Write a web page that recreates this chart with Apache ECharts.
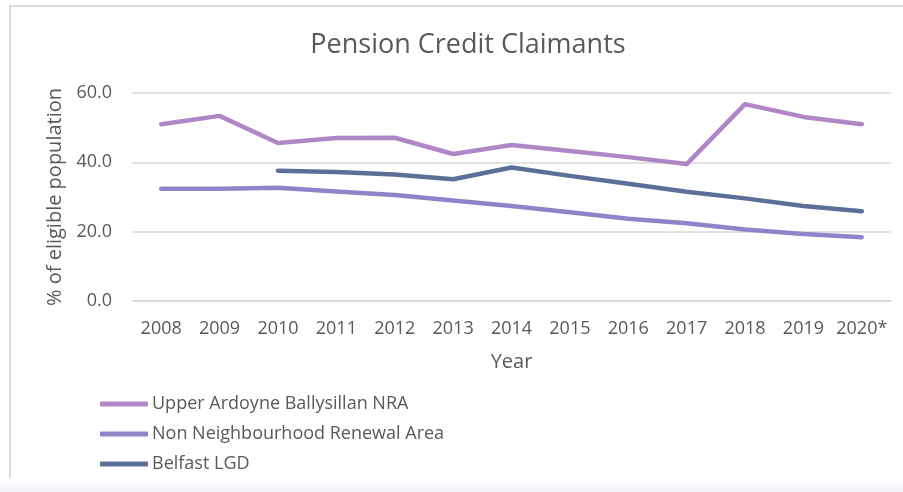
<!DOCTYPE html>
<html>
<head>
<meta charset="utf-8">
<script src="https://cdn.jsdelivr.net/npm/echarts@6/dist/echarts.min.js"></script>
<style>
  html, body { margin: 0; padding: 0; background: #fff; }
  #chart { width: 903px; height: 492px; }
</style>
</head>
<body>
<div id="chart"></div>
<script>
const years = ['2008', '2009', '2010', '2011', '2012', '2013', '2014', '2015', '2016', '2017', '2018', '2019', '2020*']
const upperArdoyne = [51.0, 53.4, 45.6, 47.0, 47.1, 42.4, 45.0, 43.3, 41.5, 39.5, 56.8, 53.1, 51.0]
const nonNra = [32.4, 32.4, 32.7, 31.6, 30.6, 29.0, 27.4, 25.6, 23.7, 22.4, 20.6, 19.3, 18.4]
const belfastLgd = [null, null, 37.6, 37.2, 36.5, 35.1, 38.5, 36.1, 33.8, 31.5, 29.6, 27.4, 25.9]
const yTicks = [0, 20, 40, 60]

const chart = echarts.init(document.getElementById('chart'))
const font = '"Open Sans", "Noto Sans", sans-serif'
const txt = '#595959'

function line(name, data, color) {
  return {
    name: name,
    type: 'line',
    data: data,
    symbol: 'none',
    connectNulls: false,
    lineStyle: { width: 4.5, color: color, cap: 'round', join: 'round' },
    itemStyle: { color: color },
  }
}

const option = {
  animation: false,
  textStyle: { fontFamily: font },
  graphic: [
    {
      type: 'rect',
      shape: { x: 10, y: 6, width: 900, height: 500 },
      style: { fill: 'none', stroke: '#dcdcdc', lineWidth: 2 },
      z: -1,
    },
    {
      type: 'rect',
      shape: { x: 0, y: 478, width: 903, height: 14 },
      style: {
        fill: new echarts.graphic.LinearGradient(0, 0, 0, 1, [
          { offset: 0, color: 'rgba(255,255,255,1)' },
          { offset: 1, color: 'rgba(245,240,250,1)' },
        ]),
      },
      z: 0,
    },
  ],
  title: {
    text: 'Pension Credit Claimants',
    left: 463,
    textAlign: 'center',
    top: 27,
    textStyle: { fontFamily: font, fontSize: 27, fontWeight: 'normal', color: txt },
  },
  legend: {
    orient: 'vertical',
    left: 100,
    top: 394,
    padding: 0,
    itemWidth: 48,
    itemHeight: 5,
    itemGap: 10,
    icon: 'roundRect',
    textStyle: { fontFamily: font, fontSize: 18, lineHeight: 20, color: txt, padding: [0, 0, 0, -1] },
    data: ['Upper Ardoyne Ballysillan NRA', 'Non Neighbourhood Renewal Area', 'Belfast LGD'],
  },
  grid: { left: 132, right: 12, top: 93, bottom: 191 },
  xAxis: {
    type: 'category',
    data: years,
    boundaryGap: true,
    name: 'Year',
    nameLocation: 'middle',
    nameGap: 51,
    nameTextStyle: { fontFamily: font, fontSize: 20, color: txt },
    axisLine: { lineStyle: { color: '#d9d9d9', width: 1.5 } },
    axisTick: { show: false },
    axisLabel: { interval: 0, fontFamily: font, fontSize: 18, color: txt, margin: 19 },
  },
  yAxis: {
    type: 'value',
    min: yTicks[0],
    max: yTicks[yTicks.length - 1],
    interval: 20,
    name: '% of eligible population',
    nameLocation: 'middle',
    nameGap: 67,
    nameTextStyle: { fontFamily: font, fontSize: 20, color: txt },
    axisLine: { show: false },
    axisTick: { show: false },
    splitLine: { lineStyle: { color: '#d9d9d9', width: 1.5 } },
    axisLabel: { fontFamily: font, fontSize: 18, color: txt, margin: 20, formatter: v => v.toFixed(1) },
  },
  series: [
    line('Upper Ardoyne Ballysillan NRA', upperArdoyne, '#b086c6'),
    line('Non Neighbourhood Renewal Area', nonNra, '#8c86c8'),
    line('Belfast LGD', belfastLgd, '#5b6f98'),
  ],
}

option && chart.setOption(option)
</script>
</body>
</html>
